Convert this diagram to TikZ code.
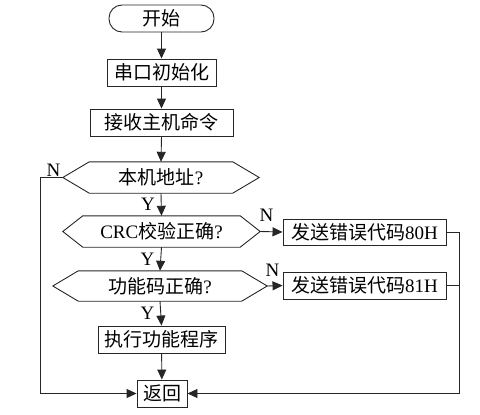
\documentclass[tikz,border=0pt]{standalone}
\usepackage{fontspec}
\setmainfont{Liberation Serif}
\newfontfamily\cjk{Noto Sans CJK SC}
\newcommand\zh[1]{{\cjk #1}}
\usetikzlibrary{arrows.meta,calc}
\begin{document}
\begin{tikzpicture}[x=1pt,y=-1pt,
  font=\fontsize{19}{22}\selectfont,
  every node/.style={inner sep=2pt},
  line/.style={line width=0.9pt,draw=black!85},
  box/.style={line, draw, rectangle, minimum height=27pt},
  term/.style={box, rounded corners=13pt},
  hexn/.style={minimum height=31pt},
  arr/.style={line, -{Triangle[length=10pt,width=9pt]}},
  ylab/.style={left=6pt, inner sep=0pt},
  nlab/.style={inner sep=0pt}]
\useasboundingbox (0,0) rectangle (480,415);
\newcommand\hexa[2]{\draw[line] (#1.west) -- ([xshift=#2]#1.north west) -- ([xshift=-#2]#1.north east) -- (#1.east) -- ([xshift=-#2]#1.south east) -- ([xshift=#2]#1.south west) -- cycle;}
% nodes
\node[term, minimum width=105pt] (start) at (161.5,18.5) {\zh{开始}};
\node[box, minimum width=109pt] (init) at (161.5,72.5) {\zh{串口初始化}};
\node[box, minimum width=143pt] (recv) at (161.5,122.5) {\zh{接收主机命令}};
\node[hexn, minimum width=196pt] (d1) at (161,177.5) {\zh{本机地址}?};
\node[hexn, minimum width=197pt] (d2) at (161.5,231.5) {CRC\zh{校验正确}?};
\node[hexn, minimum width=214pt, minimum height=30pt] (d3) at (160,286) {\zh{功能码正确}?};
\node[box, minimum width=163pt, minimum height=26pt] (e80) at (364.5,232) {\zh{发送错误代码}80H};
\node[box, minimum width=163pt] (e81) at (364.5,285.5) {\zh{发送错误代码}81H};
\node[box, minimum width=127pt] (exec) at (161.5,339.5) {\zh{执行功能程序}};
\node[box, minimum width=50pt] (ret) at (162,393.5) {\zh{返回}};
\hexa{d1}{26.5pt}
\hexa{d2}{20pt}
\hexa{d3}{25.5pt}
\coordinate (lft) at (40,393.5);
\coordinate (rgt) at (459,393.5);
% connectors
\draw[arr] (start) -- (init);
\draw[arr] (init) -- (recv);
\draw[arr] (recv.south) -- (d1.north);
\draw[arr] (d1.south) -- node[ylab]{Y} (d2.north);
\draw[arr] (d2.south) -- node[ylab]{Y} (d3.north);
\draw[arr] (d3.south) -- node[ylab]{Y} (exec.north);
\draw[arr] (exec) -- (ret);
\draw[arr] (d1.west) node[nlab, anchor=south east, xshift=-2pt, yshift=1pt]{N} -| (lft) -- (ret.west);
\draw[arr] (d2.east) node[nlab, anchor=south west, xshift=-1pt, yshift=10pt]{N} -- (e80.west);
\draw[arr] (d3.east) node[nlab, anchor=south west, xshift=-2pt, yshift=9pt]{N} -- (e81.west);
\draw[arr] (e80.east) -| (rgt) -- (ret.east);
\draw[line] (e81.east) -- (e81.east -| rgt);
\end{tikzpicture}
\end{document}
